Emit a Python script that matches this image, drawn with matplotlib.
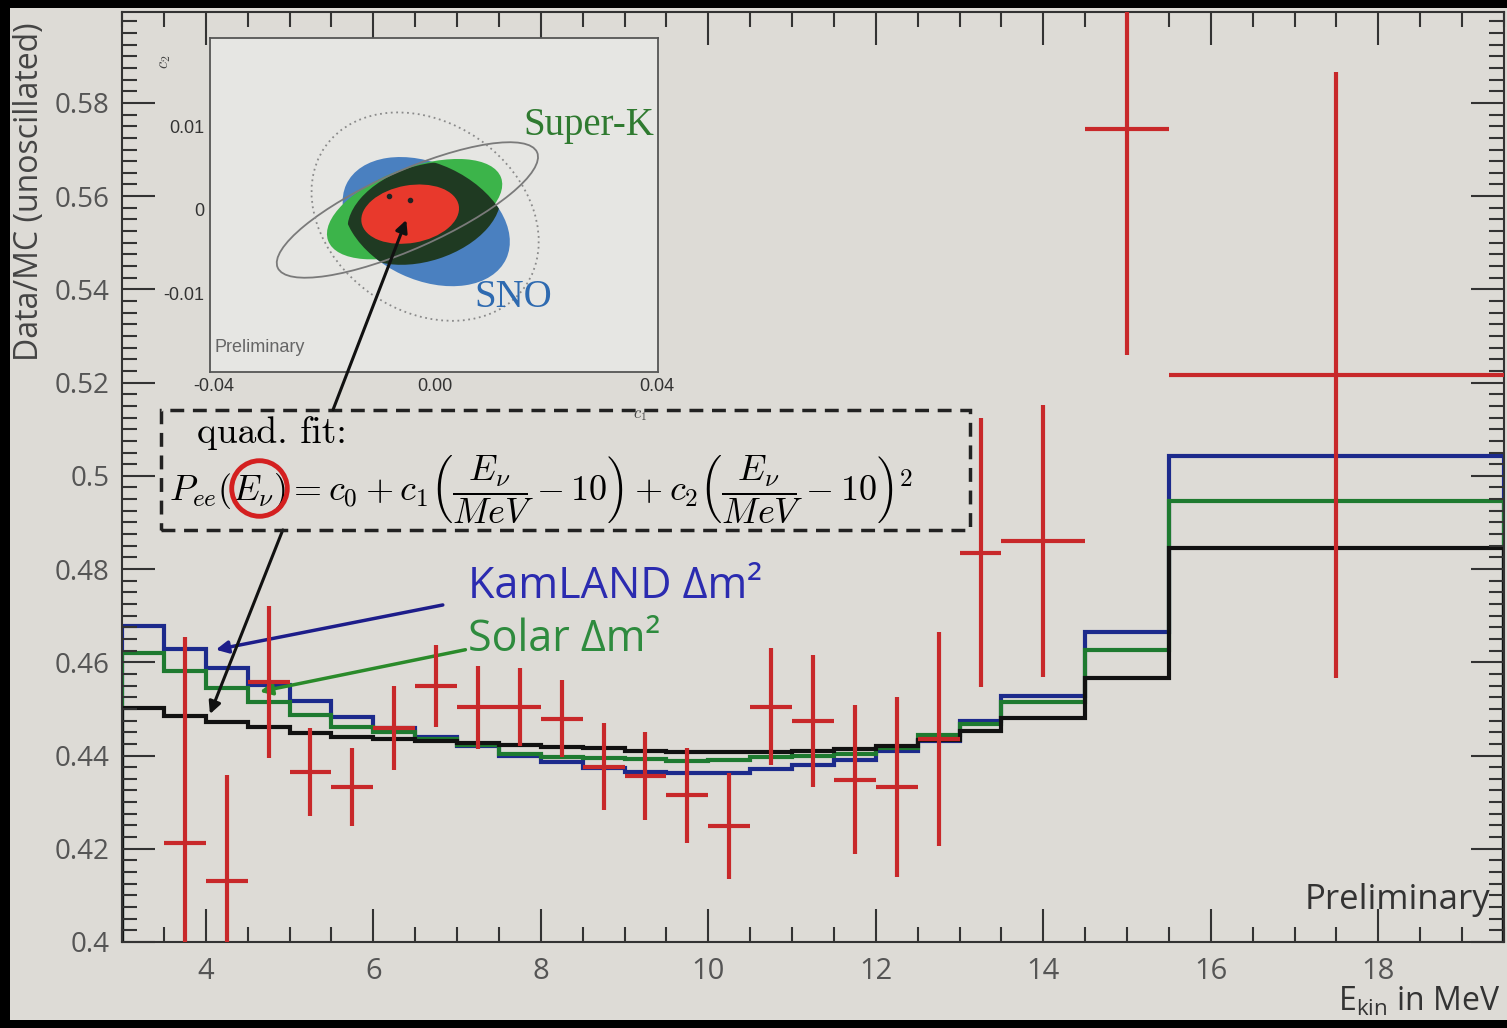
import matplotlib
matplotlib.use('Agg')
import matplotlib.pyplot as plt
from matplotlib.patches import Ellipse, Rectangle
from matplotlib.transforms import Affine2D
from matplotlib.ticker import MultipleLocator, FormatStrFormatter

plt.rcParams['font.family'] = ['Open Sans', 'DejaVu Sans']
plt.rcParams['mathtext.fontset'] = 'cm'

# model histograms (bin edges in MeV)
edges = [3.0, 3.5, 4.0, 4.5, 5.0, 5.5, 6.0, 6.5, 7.0, 7.5, 8.0, 8.5, 9.0,
         9.5, 10.0, 10.5, 11.0, 11.5, 12.0, 12.5, 13.0, 13.5, 14.5, 15.5, 19.5]
kamland = [0.4678, 0.4629, 0.4588, 0.4552, 0.4517, 0.4483, 0.4458, 0.4440,
           0.4420, 0.4400, 0.4386, 0.4373, 0.4365, 0.4362, 0.4362, 0.4371,
           0.4380, 0.4391, 0.4410, 0.4432, 0.4475, 0.4528, 0.4665, 0.5043]
solar = [0.4620, 0.4582, 0.4545, 0.4515, 0.4487, 0.4461, 0.4450, 0.4435,
         0.4423, 0.4404, 0.4397, 0.4395, 0.4393, 0.4388, 0.4391, 0.4397,
         0.4400, 0.4403, 0.4417, 0.4445, 0.4468, 0.4515, 0.4627, 0.4946]
quadfit = [0.4502, 0.4485, 0.4472, 0.4461, 0.4449, 0.4440, 0.4436, 0.4431,
           0.4427, 0.4423, 0.4418, 0.4416, 0.4410, 0.4408, 0.4408, 0.4408,
           0.4410, 0.4413, 0.4421, 0.4434, 0.4452, 0.4481, 0.4567, 0.4845]

# data points
e_data = [3.75, 4.25, 4.75, 5.25, 5.75, 6.25, 6.75, 7.25, 7.75, 8.25, 8.75,
          9.25, 9.75, 10.25, 10.75, 11.25, 11.75, 12.25, 12.75, 13.25,
          14.0, 15.0, 17.5]
e_half = [0.25] * 20 + [0.5, 0.5, 2.0]
ratio = [0.4212, 0.4131, 0.4558, 0.4365, 0.4333, 0.4459, 0.4549, 0.4504,
         0.4504, 0.4479, 0.4376, 0.4356, 0.4315, 0.4249, 0.4505, 0.4474,
         0.4348, 0.4333, 0.4435, 0.4835, 0.4861, 0.5745, 0.5217]
ratio_err = [0.0442, 0.0227, 0.0163, 0.0095, 0.0084, 0.0090, 0.0088, 0.0089,
             0.0084, 0.0082, 0.0093, 0.0094, 0.0102, 0.0113, 0.0126, 0.0142,
             0.0160, 0.0193, 0.0230, 0.0289, 0.0292, 0.0485, 0.0650]

# inset contours: (c1, c2, width, height, angle)
sno = (-0.0016, -0.0014, 0.0318, 0.0210, -25)
superk = (-0.0037, 0.0001, 0.0332, 0.0150, 20)
overlap = (-0.0020, -0.0004, 0.0285, 0.0172, 18)
combined = (-0.0045, -0.0005, 0.0178, 0.0104, 10)
outline = (-0.0050, 0.0000, 0.0512, 0.0140, 24)
dotted = (-0.0018, -0.0008, 0.0440, 0.0340, -35)
best_c1 = [-0.0083, -0.0046]
best_c2 = [0.0017, 0.0012]

bg = '#dddbd6'
W, H = 1507, 1028
fig = plt.figure(figsize=(W / 100, H / 100), dpi=100, facecolor='black')
fig.patches.append(Rectangle((10 / W, 8 / H), 1, 1 - 16 / H, transform=fig.transFigure,
                             facecolor=bg, edgecolor='none', zorder=-10))

ax = fig.add_axes([122 / W, 1 - 942 / H, (1504 - 122) / W, (942 - 12) / H])
ax.set_facecolor(bg)
ax.set_xlim(3, 19.5)
ax.set_ylim(0.4, 0.5995)

ax.stairs(kamland, edges, color='#1c2a8c', lw=3)
ax.stairs(solar, edges, color='#1e7a30', lw=3)
ax.stairs(quadfit, edges, color='#111111', lw=3)
ax.errorbar(e_data, ratio, xerr=e_half, yerr=ratio_err, fmt='none',
            ecolor='#c8282a', elinewidth=3, capsize=0, zorder=5)

ax.xaxis.set_major_locator(MultipleLocator(2))
ax.xaxis.set_minor_locator(MultipleLocator(0.5))
ax.yaxis.set_major_locator(MultipleLocator(0.02))
ax.yaxis.set_minor_locator(MultipleLocator(0.0025))
ax.yaxis.set_major_formatter(FormatStrFormatter('%g'))
ax.tick_params(which='both', direction='in', top=True, right=True,
               color='#333333', width=1.5, labelcolor='#555555')
ax.tick_params(which='major', length=24)
ax.tick_params(which='minor', length=11)
ax.tick_params(axis='y', labelsize=20, pad=9)
ax.tick_params(axis='x', labelsize=21, pad=11)
for s in ax.spines.values():
    s.set_color('#333333')
    s.set_linewidth(1.5)

fig.text(30 / W, 1 - 22 / H, 'Data/MC (unoscillated)', rotation=90, ha='center',
         va='top', fontsize=23, color='#444444')
fig.text(1500 / W, 1 - 1019 / H, r'$\mathregular{E_{kin}}$ in MeV', ha='right',
         va='bottom', fontsize=23, color='#333333')
ax.text(19.33, 0.409, 'Preliminary', ha='right', va='center', fontsize=25,
        color='#333333')

# fit formula box
ax.add_patch(Rectangle((3.46, 0.4884), 13.13 - 3.46, 0.5142 - 0.4884, fill=False,
                       ls=(0, (4, 2.5)), lw=2.5, edgecolor='#222222', zorder=4))
ax.text(3.90, 0.5092, 'quad. fit:', fontsize=27, va='center', ha='left',
        family='cmr10')
ax.text(3.56, 0.4972,
        r'$P_{ee}(E_\nu) = c_0 + c_1\left(\dfrac{E_\nu}{MeV} - 10\right)'
        r' + c_2\left(\dfrac{E_\nu}{MeV} - 10\right)^2$',
        fontsize=26, va='center', ha='left')
ax.plot([4.64], [0.4974], 'o', ms=40, mfc='none', mec='#d42020', mew=3.5, zorder=6)

ax.text(7.13, 0.4762, 'KamLAND Δm²', color='#2b2bb0', fontsize=31, va='center')
ax.text(7.13, 0.4648, 'Solar Δm²', color='#2e8b3e', fontsize=31, va='center')
ax.annotate('', xy=(4.12, 0.4627), xytext=(6.83, 0.4723),
            arrowprops=dict(arrowstyle='-|>', color='#1d1d8a', lw=2.5,
                            mutation_scale=18, shrinkA=0, shrinkB=0))
ax.annotate('', xy=(4.645, 0.4537), xytext=(7.10, 0.4627),
            arrowprops=dict(arrowstyle='-|>', color='#2a8a2a', lw=2.5,
                            mutation_scale=18, shrinkA=0, shrinkB=0))
ax.annotate('', xy=(4.05, 0.4489), xytext=(4.92, 0.4884),
            arrowprops=dict(arrowstyle='-|>', color='#111111', lw=2.2,
                            mutation_scale=18, shrinkA=0, shrinkB=0))

# inset: c1 / c2 plane
ax_in = fig.add_axes([210 / W, 1 - 372 / H, 448 / W, 334 / H])
ax_in.set_facecolor('#e6e6e3')
ax_in.set_xlim(-0.0406, 0.0402)
ax_in.set_ylim(-0.0195, 0.0207)
ax_in.set_xticks([-0.04, 0.0, 0.04], ['-0.04', '0.00', '0.04'])
ax_in.set_yticks([-0.01, 0.0, 0.01], ['-0.01', '0', '0.01'])
ax_in.tick_params(length=0, labelsize=13, labelcolor='#333333', pad=4)
for lab in ax_in.get_xticklabels() + ax_in.get_yticklabels():
    lab.set_family(['Liberation Sans', 'DejaVu Sans'])
for s in ax_in.spines.values():
    s.set_color('#555555')
    s.set_linewidth(1.3)

pos = ax_in.get_position()
k = (pos.height * H / 0.0402) / (pos.width * W / 0.0808)
tr = Affine2D().scale(1, 1 / k) + ax_in.transData


def ell(p, **kw):
    e = Ellipse((p[0], p[1] * k), p[2], p[3], angle=p[4], transform=tr, **kw)
    ax_in.add_patch(e)
    return e


blue = ell(sno, facecolor='#4a80c0', edgecolor='none')
ell(superk, facecolor='#3cb44a', edgecolor='none')
dark = ell(overlap, facecolor='#1f3a22', edgecolor='none')
dark.set_clip_path(blue)
ell(combined, facecolor='#e8392c', edgecolor='none')
ell(outline, facecolor='none', edgecolor='#7a7a7a', lw=1.3)
ell(dotted, facecolor='none', edgecolor='#8a8a8a', lw=1.3, ls=(0, (1, 2)))
ax_in.plot(best_c1, best_c2, 'o', ms=3, color='#222222')

ax_in.text(0.0396, 0.0102, 'Super-K', ha='right', va='center', fontsize=28,
           color='#2f7a30', family=['Liberation Serif', 'DejaVu Serif'])
ax_in.text(0.0070, -0.0105, 'SNO', ha='left', va='center', fontsize=28,
           color='#2e6ab0', family=['Liberation Serif', 'DejaVu Serif'])
ax_in.text(-0.0398, -0.0165, 'Preliminary', ha='left', va='center', fontsize=13,
           color='#666666', family=['Liberation Sans', 'DejaVu Sans'])
fig.text(165 / W, 1 - 62 / H, r'$c_2$', rotation=90, ha='center', va='center',
         fontsize=12, color='#444444')
fig.text(640 / W, 1 - 415 / H, r'$c_1$', ha='center', va='center',
         fontsize=12, color='#444444')

ax_in.annotate('', xy=(-0.0052, -0.0012), xycoords='data',
               xytext=(5.52, 0.5142), textcoords=ax.transData,
               arrowprops=dict(arrowstyle='-|>', color='#111111', lw=2.2,
                               mutation_scale=18, shrinkA=0, shrinkB=0),
               annotation_clip=False)

fig.savefig('out.png', dpi=100, facecolor=fig.get_facecolor())
